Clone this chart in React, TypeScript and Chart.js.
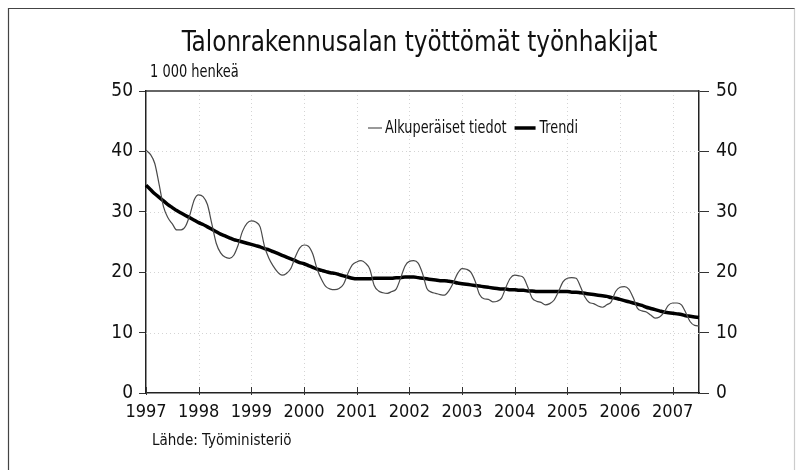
import React, { useEffect, useRef } from "react";
import { Chart, registerables } from "chart.js";

Chart.register(...registerables);

const TITLE = "Talonrakennusalan työttömät työnhakijat";
const UNIT = "1 000 henkeä";
const SOURCE = "Lähde: Työministeriö";
const YEARS = ["1997", "1998", "1999", "2000", "2001", "2002", "2003", "2004", "2005", "2006", "2007"];
const Y_TICKS = [0, 10, 20, 30, 40, 50];
const SERIES_NAMES = ["Alkuperäiset tiedot", "Trendi"];

// Monthly values, Jan 1997 – Jul 2007 (thousands)
const ORIGINAL = [
  40.2, 39.5, 38.0, 34.5, 30.8, 29.0, 28.0, 27.0, 27.0, 27.6, 29.5, 32.0,
  32.8, 32.5, 31.2, 28.0, 24.8, 23.2, 22.5, 22.3, 22.8, 24.5, 26.8, 28.1,
  28.5, 28.3, 27.5, 24.3, 22.3, 21.0, 20.0, 19.5, 19.8, 20.6, 22.5, 24.0,
  24.5, 24.3, 23.0, 20.5, 18.8, 17.6, 17.2, 17.1, 17.3, 18.0, 19.8, 21.2,
  21.7, 21.9, 21.5, 20.5, 17.8, 16.9, 16.6, 16.5, 16.8, 17.2, 19.0, 21.0,
  21.8, 21.9, 21.5, 19.8, 17.3, 16.7, 16.5, 16.3, 16.2, 16.9, 18.2, 19.8,
  20.6, 20.5, 20.0, 18.5, 16.3, 15.6, 15.5, 15.1, 15.2, 15.7, 17.5, 19.0,
  19.5, 19.4, 19.1, 17.5, 15.7, 15.2, 15.0, 14.6, 14.8, 15.4, 16.8, 18.4,
  19.0, 19.1, 19.0, 17.6, 15.9, 15.0, 14.8, 14.4, 14.2, 14.6, 15.1, 16.8,
  17.5, 17.6, 17.2, 15.8, 14.0, 13.6, 13.4, 12.9, 12.4, 12.6, 13.3, 14.5,
  14.9, 14.9, 14.6, 13.3, 11.8, 11.2, 11.1,
];

const TREND = [
  34.4, 33.7, 33.0, 32.4, 31.8, 31.2, 30.7, 30.2, 29.8, 29.4, 29.0, 28.6,
  28.2, 27.9, 27.5, 27.1, 26.7, 26.3, 26.0, 25.7, 25.4, 25.2, 25.0, 24.8,
  24.6, 24.4, 24.2, 23.9, 23.7, 23.4, 23.1, 22.8, 22.5, 22.2, 21.9, 21.6,
  21.4, 21.1, 20.8, 20.5, 20.3, 20.1, 19.9, 19.8, 19.6, 19.4, 19.2, 19.0,
  18.9, 18.9, 18.9, 18.9, 19.0, 19.0, 19.0, 19.0, 19.0, 19.1, 19.1, 19.2,
  19.2, 19.2, 19.1, 19.0, 18.9, 18.8, 18.7, 18.6, 18.6, 18.5, 18.4, 18.2,
  18.1, 18.0, 17.9, 17.8, 17.7, 17.6, 17.5, 17.4, 17.3, 17.2, 17.2, 17.1,
  17.1, 17.0, 17.0, 16.9, 16.9, 16.8, 16.8, 16.8, 16.8, 16.8, 16.8, 16.8,
  16.8, 16.7, 16.7, 16.6, 16.5, 16.4, 16.3, 16.2, 16.1, 16.0, 15.8, 15.7,
  15.5, 15.3, 15.1, 14.9, 14.7, 14.5, 14.2, 14.0, 13.8, 13.6, 13.4, 13.3,
  13.2, 13.1, 13.0, 12.8, 12.7, 12.6, 12.5,
];

const LABELS = ORIGINAL.map((_, i) => `${YEARS[Math.floor(i / 12)]}-${String((i % 12) + 1).padStart(2, "0")}`);

const FONT = '"Liberation Sans Narrow", "Arial Narrow", "DejaVu Sans Condensed", "Liberation Sans", Arial, sans-serif';

// draw text horizontally condensed by factor sx
function drawText(ctx: any, text: string, x: number, y: number, size: number, sx: number, align: string) {
  ctx.save();
  ctx.font = `${size}px ${FONT}`;
  ctx.textAlign = align;
  ctx.textBaseline = "middle";
  ctx.translate(x, y);
  ctx.scale(sx, 1);
  ctx.fillText(text, 0, 0);
  const w = ctx.measureText(text).width * sx;
  ctx.restore();
  return w;
}

const decorPlugin = {
  id: "decor",
  beforeDatasetsDraw(chart: any) {
    const { ctx, chartArea: a, scales } = chart;
    ctx.save();
    ctx.strokeStyle = "#d4d4d4";
    ctx.lineWidth = 1;
    ctx.setLineDash([1, 3]);
    Y_TICKS.forEach((v) => {
      if (v === 0 || v === 50) return;
      const y = Math.round(scales.y.getPixelForValue(v)) + 0.5;
      ctx.beginPath();
      ctx.moveTo(a.left, y);
      ctx.lineTo(a.right, y);
      ctx.stroke();
    });
    YEARS.forEach((_, k) => {
      if (k === 0) return;
      const x = Math.round(scales.x.getPixelForValue(k * 12)) + 0.5;
      ctx.beginPath();
      ctx.moveTo(x, a.top);
      ctx.lineTo(x, a.bottom);
      ctx.stroke();
    });
    ctx.restore();
  },
  afterDraw(chart: any) {
    const { ctx, chartArea: a, scales } = chart;
    ctx.save();
    // plot top border
    ctx.strokeStyle = "#333";
    ctx.lineWidth = 1.5;
    ctx.beginPath();
    ctx.moveTo(a.left, a.top);
    ctx.lineTo(a.right, a.top);
    ctx.stroke();
    // x ticks inside
    ctx.lineWidth = 1;
    YEARS.forEach((_, k) => {
      const x = Math.round(scales.x.getPixelForValue(k * 12)) + 0.5;
      ctx.beginPath();
      ctx.moveTo(x, a.bottom - 6);
      ctx.lineTo(x, a.bottom + 2);
      ctx.stroke();
    });
    // frame
    ctx.strokeStyle = "#444";
    ctx.lineWidth = 1.2;
    ctx.beginPath();
    ctx.moveTo(8.5, 470);
    ctx.lineTo(8.5, 8.5);
    ctx.lineTo(795, 8.5);
    ctx.stroke();
    ctx.strokeStyle = "#ccc";
    ctx.beginPath();
    ctx.moveTo(794.5, 8.5);
    ctx.lineTo(794.5, 470);
    ctx.stroke();

    ctx.fillStyle = "#111";
    drawText(ctx, TITLE, (a.left + a.right) / 2 - 3, 44, 28, 0.92, "center");
    drawText(ctx, UNIT, a.left + 4, 73, 17, 0.85, "left");
    drawText(ctx, SOURCE, a.left + 6, 441, 15, 1.0, "left");

    // legend
    const ly = a.top + 37;
    ctx.strokeStyle = "#555";
    ctx.lineWidth = 1.2;
    ctx.beginPath();
    ctx.moveTo(368, ly);
    ctx.lineTo(382, ly);
    ctx.stroke();
    const w1 = drawText(ctx, SERIES_NAMES[0], 385, ly + 1, 17, 0.84, "left");
    const x2 = 385 + w1 + 8;
    ctx.strokeStyle = "#000";
    ctx.lineWidth = 3.5;
    ctx.beginPath();
    ctx.moveTo(x2, ly);
    ctx.lineTo(x2 + 21, ly);
    ctx.stroke();
    drawText(ctx, SERIES_NAMES[1], x2 + 25, ly + 1, 17, 0.84, "left");
    ctx.restore();
  },
};

export default function App() {
  const ref = useRef<HTMLCanvasElement>(null);
  useEffect(() => {
    if (!ref.current) return;
    const tickFont = { family: FONT, size: 18 };
    const chart = new Chart(ref.current, {
      type: "line",
      data: {
        labels: LABELS,
        datasets: [
          {
            label: SERIES_NAMES[0],
            data: ORIGINAL,
            borderColor: "#4a4a4a",
            borderWidth: 1.2,
            pointRadius: 0,
            cubicInterpolationMode: "monotone",
            fill: false,
          },
          {
            label: SERIES_NAMES[1],
            data: TREND,
            borderColor: "#000",
            borderWidth: 3.5,
            pointRadius: 0,
            cubicInterpolationMode: "monotone",
            fill: false,
          },
        ],
      },
      options: {
        responsive: false,
        animation: false,
        events: [],
        layout: { padding: { top: 91, left: 0, right: 0, bottom: 0 } },
        plugins: { legend: { display: false }, tooltip: { enabled: false }, title: { display: false } },
        scales: {
          x: {
            type: "category",
            offset: false,
            grid: { display: true, drawOnChartArea: false, drawTicks: false },
            border: { display: true, color: "#222", width: 1.5 },
            ticks: {
              autoSkip: false,
              maxRotation: 0,
              padding: 9,
              color: "#111",
              font: tickFont,
              callback: (_v: any, i: number) => (i % 12 === 0 ? YEARS[i / 12] : ""),
            },
            afterFit: (s: any) => {
              s.height = 77;
            },
          },
          y: {
            position: "left",
            min: 0,
            max: 50,
            grid: { drawOnChartArea: false, drawTicks: true, tickLength: 7, color: "#333" },
            border: { display: true, color: "#222", width: 1.5 },
            ticks: { stepSize: 10, padding: 6, color: "#111", font: { family: FONT, size: 19 } },
            afterFit: (s: any) => {
              s.width = 146;
            },
          },
          y2: {
            position: "right",
            min: 0,
            max: 50,
            grid: { drawOnChartArea: false, drawTicks: true, tickLength: 10, color: "#333" },
            border: { display: true, color: "#222", width: 1.5 },
            ticks: { stepSize: 10, padding: 7, color: "#111", font: { family: FONT, size: 19 } },
            afterFit: (s: any) => {
              s.width = 102;
            },
          },
        },
      },
      plugins: [decorPlugin],
    } as any);
    return () => chart.destroy();
  }, []);
  return (
    <div style={{ position: "fixed", left: 0, top: 0, width: 801, height: 470, background: "#fff" }}>
      <canvas ref={ref} width={801} height={470} style={{ display: "block" }} />
    </div>
  );
}
